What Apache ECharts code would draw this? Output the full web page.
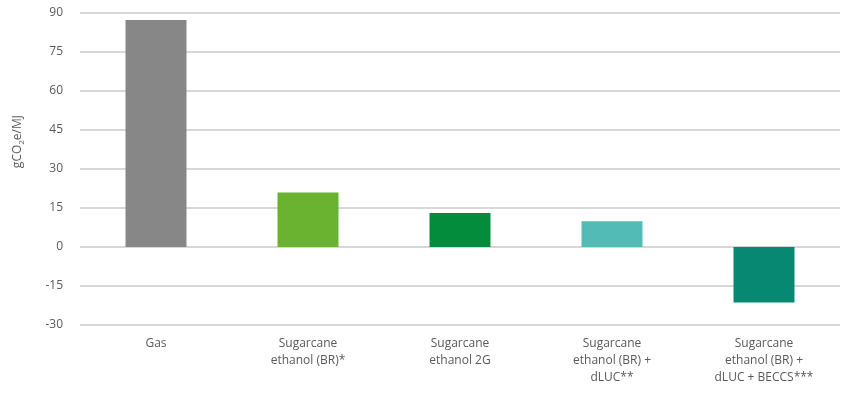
<!DOCTYPE html>
<html>
<head>
<meta charset="utf-8">
<script src="https://cdn.jsdelivr.net/npm/echarts@6/dist/echarts.min.js"></script>
<style>
  html, body { margin: 0; padding: 0; background: #fff; }
  #main { width: 844px; height: 393px; }
</style>
</head>
<body>
<div id="main"></div>
<script>
// data
var categories = [
  'Gas',
  'Sugarcane\nethanol (BR)*',
  'Sugarcane\nethanol 2G',
  'Sugarcane\nethanol (BR) +\ndLUC**',
  'Sugarcane\nethanol (BR) +\ndLUC + BECCS***'
];
var values = [87.3, 21, 13.1, 9.9, -21.3];
var colors = ['#878787', '#6ab330', '#028c3c', '#53bbb5', '#068873'];
var yTicks = { min: -30, max: 90, interval: 15 };

var myChart = echarts.init(document.getElementById('main'));
myChart.setOption({
  animation: false,
  textStyle: { fontFamily: 'Open Sans' },
  grid: { left: 80, right: 4, top: 13, bottom: 68, containLabel: false },
  graphic: [{
    type: 'text',
    left: 12,
    top: 115,
    rotation: Math.PI / 2,
    originX: 0, originY: 0,
    style: {
      text: '{a|gCO}{s|2}{a|e/MJ}',
      rich: {
        a: { fontSize: 12, fill: '#595959', fontFamily: 'Open Sans' },
        s: { fontSize: 8, fill: '#595959', fontFamily: 'Open Sans', padding: [8, 0, 0, 0] }
      }
    }
  }],
  xAxis: {
    type: 'category',
    data: categories,
    axisLine: { show: false },
    axisTick: { show: false },
    axisLabel: {
      color: '#595959',
      fontSize: 12,
      lineHeight: 17,
      margin: 10,
      interval: 0
    }
  },
  yAxis: {
    type: 'value',
    min: yTicks.min,
    max: yTicks.max,
    interval: yTicks.interval,
    axisLine: { show: false },
    axisTick: { show: false },
    axisLabel: { color: '#595959', fontSize: 12, margin: 17 },
    splitLine: { lineStyle: { color: '#cacaca', width: 1.5 } }
  },
  series: [{
    type: 'bar',
    barWidth: 61,
    data: values,
    itemStyle: {
      color: function (params) {
        return colors[params.dataIndex];
      }
    }
  }]
});
</script>
</body>
</html>
